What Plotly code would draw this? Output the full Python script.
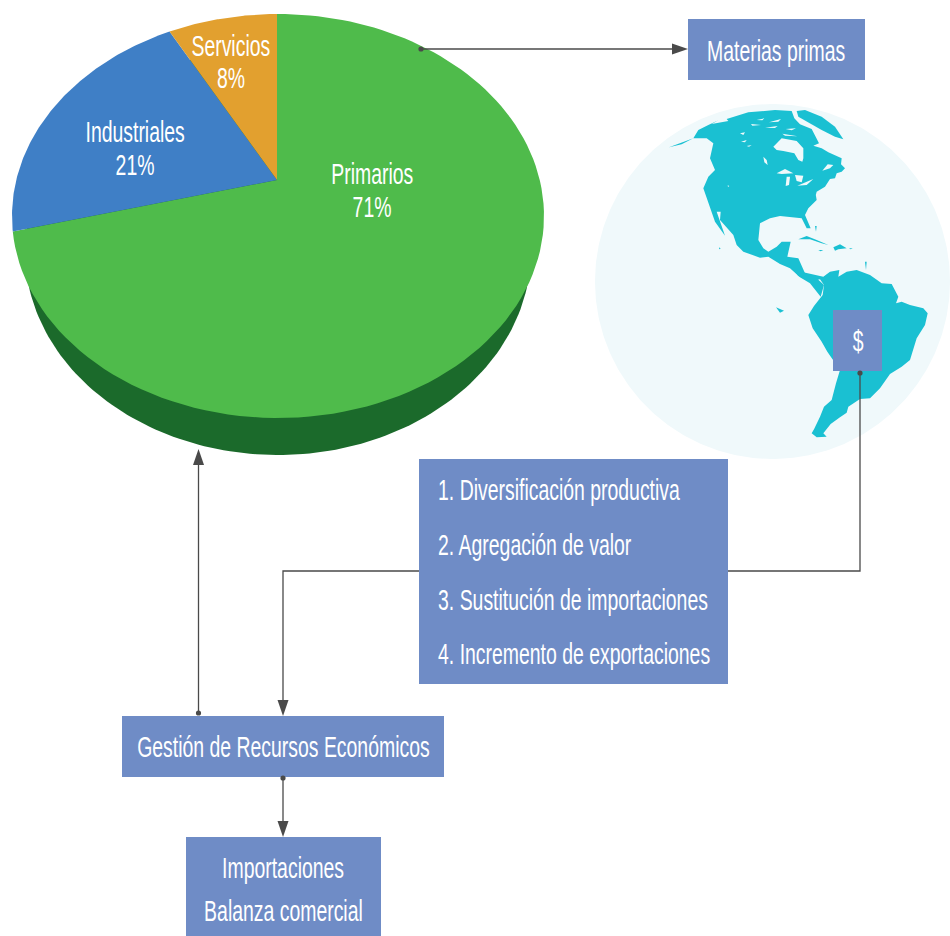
import numpy as np
import plotly.graph_objects as go

# ---- data ----
sector_labels = ["Primarios", "Industriales", "Servicios"]
sector_shares = [71, 21, 8]
sector_colors = ["#4fbb4b", "#3f7fc6", "#e2a02f"]
sector_label_pos = [(372, 174, 207), (135, 132, 165), (231, 46, 78)]
list_items = ["1. Diversificación productiva", "2. Agregación de valor",
              "3. Sustitución de importaciones", "4. Incremento de exportaciones"]

BOX = "#6f8cc6"; LINE = "#4a4a4a"; LAND = "#1ac0d2"; SEA = "#f0f9fb"
FONT = "Liberation Sans"; FS = 29

# pie geometry in page pixels (tilted disc, apex off-centre by perspective)
cx, cy, rx, ry = 278, 216, 266, 202
vx, vy = 277, 180
k = ry / rx

def rim(theta):
    dx, dy = np.sin(theta), -k * np.cos(theta)
    ox, oy = vx - cx, vy - cy
    a = (dx / rx) ** 2 + (dy / ry) ** 2
    b = 2 * (ox * dx / rx ** 2 + oy * dy / ry ** 2)
    c = (ox / rx) ** 2 + (oy / ry) ** 2 - 1
    t = (-b + np.sqrt(b * b - 4 * a * c)) / (2 * a)
    return vx + t * dx, vy + t * dy

def ellipse(x0, y0, a, b, n=240):
    t = np.linspace(0, 2 * np.pi, n)
    return x0 + a * np.cos(t), y0 + b * np.sin(t)

fig = go.Figure()

def poly(x, y, color):
    fig.add_trace(go.Scatter(x=list(x), y=list(y), mode="lines", fill="toself", fillcolor=color,
                             line=dict(width=0, color=color), hoverinfo="skip", showlegend=False))

# side of the disc, then the slices from the shares
sx, sy = ellipse(278, 251, 253, 204)
poly(sx, sy, "#1b6a2b")
start = 0.0
for share, color in zip(sector_shares, sector_colors):
    sweep = share / sum(sector_shares) * 2 * np.pi
    th = np.linspace(start, start + sweep, 120)
    pts = [rim(t) for t in th]
    poly([vx] + [p[0] for p in pts] + [vx], [vy] + [p[1] for p in pts] + [vy], color)
    start += sweep

# globe
gx, gy = ellipse(772.5, 281.5, 177.5, 177.5, 360)
poly(gx, gy, SEA)

# outlines traced in crops of the map at scale 3
def crop(pts, ox, oy):
    return [ox + p[0] / 3 for p in pts], [oy + p[1] / 3 for p in pts]
def C(pts): return crop(pts, 665, 105)
def D(pts): return crop(pts, 700, 190)
def B(pts): return crop(pts, 590, 270)

canada_usa_c = [(12,127),(50,118),(85,100),(100,75),(130,60),(160,46),(140,57),(190,48),(185,42),(250,22),(330,15),(380,18),
    (388,40),(405,58),(440,72),(462,115),(445,122),(470,130),(490,142),(530,160),(528,178),(540,190),(530,200),(515,205),
    (510,220),(495,222),(480,245),(455,260),(447,290)]
gulf_d = [(345,0),(350,30),(325,55),(315,75),(332,115),(320,115),(305,85),(270,80),(240,78),(210,85),(180,100),(175,150),
    (190,175),(205,185),(230,170),(245,155),(272,155),(262,200),(295,205),(315,250),(330,270),(350,265),(372,285),(362,320),
    (330,280),(300,262),(270,235),(240,222),(205,200),(180,203),(130,185),(110,165),(100,135),(60,90),(62,65),(50,65),(75,137),
    (45,95),(25,40),(10,0)]
west_c = [(115,250),(130,215),(150,195),(135,160),(145,115),(125,100),(85,100)]
nax = C(canada_usa_c)[0] + D(gulf_d)[0] + C(west_c)[0]
nay = C(canada_usa_c)[1] + D(gulf_d)[1] + C(west_c)[1]
poly(nax, nay, LAND)

south_america = [(610,0),(625,18),(660,35),(690,28),(702,45),(698,75),(672,108),(655,135),(668,175),(695,215),(712,245),
    (750,300),(738,340),(725,390),(702,410),(690,440),(672,478),(665,490),(680,502),(710,500),(700,490),(722,462),(750,442),
    (770,428),(775,410),(810,387),(840,385),(870,355),(900,312),(935,290),(960,270),(980,205),(1005,165),(1013,130),
    (1000,115),(960,105),(935,95),(918,100),(925,80),(905,42),(875,40),(840,15),(800,0),(770,5),(745,20),(748,0),(720,5),(700,20)]
poly(*B(south_america), LAND)

greenland = [(395,18),(420,15),(470,35),(510,65),(535,103),(510,95),(470,75),(430,52),(400,35)]
poly(*C(greenland), LAND)
caribbean = [[(295,148),(320,138),(350,150),(385,165),(365,160),(330,148)], [(400,172),(420,163),(440,175),(415,178),(405,182)],
             [(355,180),(370,180),(362,184)], [(447,175),(458,175),(452,178)], [(58,172),(62,176),(57,178)],
             [(345,108),(350,108),(348,125)], [(495,215),(500,215),(498,240)]]
for pts in caribbean:
    poly(*D(pts), LAND)
poly(*B([(558,112),(582,122),(570,128)]), LAND)

holes_c = [[(325,125),(350,100),(395,108),(415,130),(415,160),(412,170),(400,165),(388,145),(355,138),(335,135)],
           [(335,205),(360,192),(385,205),(350,207)], [(365,215),(375,215),(372,240),(362,243)],
           [(390,210),(415,212),(410,232),(395,228)], [(397,242),(445,222),(425,240)],
           [(295,155),(305,165),(308,180),(298,172)], [(225,85),(240,82),(235,90)], [(228,110),(245,105),(240,112)],
           [(245,123),(260,120),(252,125)], [(188,241),(193,243),(189,246)],
           [(472,197),(488,178),(505,180),(495,190)],
           [(275,45),(298,40),(292,46)], [(312,52),(348,42),(340,50)], [(258,57),(288,60),(262,62)],
           [(300,68),(338,63),(330,69)], [(362,72),(393,70),(380,76)], [(352,86),(398,94),(360,92)]]
for pts in holes_c:
    poly(*C(pts), SEA)

shapes = []
def rect(x0, y0, x1, y1):
    shapes.append(dict(type="rect", xref="x", yref="y", x0=x0, y0=y0, x1=x1, y1=y1, fillcolor=BOX, line_width=0))
for r in [(688,19,865,80), (833,310,882,371), (419,459,728,684), (122,716,444,777), (186,837,381,936)]:
    rect(*r)

def path(d):
    shapes.append(dict(type="path", xref="x", yref="y", path=d, line=dict(color=LINE, width=1.3)))
def arrow(d):
    shapes.append(dict(type="path", xref="x", yref="y", path=d, fillcolor=LINE, line_width=0))
def dot(x, y, r=2.6):
    shapes.append(dict(type="circle", xref="x", yref="y", x0=x-r, x1=x+r, y0=y-r, y1=y+r, fillcolor=LINE, line_width=0))

path("M421,49 L676,49"); arrow("M688,49 L672,43.5 L672,54.5 Z"); dot(421, 49)
path("M860,373 L860,571 L728,571"); dot(860, 373)
path("M419,571 L283,571 L283,704"); arrow("M283,716 L277.5,700 L288.5,700 Z")
path("M198.5,713 L198.5,460"); arrow("M198.5,449 L193,465 L204,465 Z"); dot(198.5, 713)
path("M283,778 L283,825"); arrow("M283,837 L277.5,821 L288.5,821 Z"); dot(283, 778)

def label(x, y, s, anchor="center", size=FS):
    fig.add_annotation(x=x, y=y, text=s, xref="x", yref="y", showarrow=False, xanchor=anchor, yanchor="middle",
                       align="center", font=dict(family=FONT, size=size, color="white"))

for name, share, pos in zip(sector_labels, sector_shares, sector_label_pos):
    label(pos[0], pos[1], name)
    label(pos[0], pos[2], f"{share}%")
label(776, 51, "Materias primas")
label(858, 341, "$")
for s, y in zip(list_items, [490, 545, 600, 654]):
    label(436, y, s, "left")
label(283, 747, "Gestión de Recursos Económicos")
label(283, 868, "Importaciones")
label(283, 911, "Balanza comercial")

fig.update_layout(width=950, height=936, margin=dict(l=0, r=0, t=0, b=0), paper_bgcolor="white", plot_bgcolor="white",
                  xaxis=dict(range=[0, 950], visible=False, fixedrange=True),
                  yaxis=dict(range=[936, 0], visible=False, fixedrange=True),
                  showlegend=False, shapes=shapes)

# the reference face is a condensed grotesque; none is installed, so narrow the real text horizontally
condense = """
document.body.style.margin='0';document.body.style.overflow='hidden';
var S=0.67;
document.querySelectorAll('.annotation-text').forEach(function(t){
  var b=t.getBBox();
  var left=/^[1-4]\\. /.test(t.textContent);
  var px=left?b.x:b.x+b.width/2;
  t.setAttribute('transform','translate('+px+',0) scale('+S+',1) translate('+(-px)+',0)');
});
"""
fig.write_html("out.html", config=dict(displayModeBar=False), post_script=condense)
